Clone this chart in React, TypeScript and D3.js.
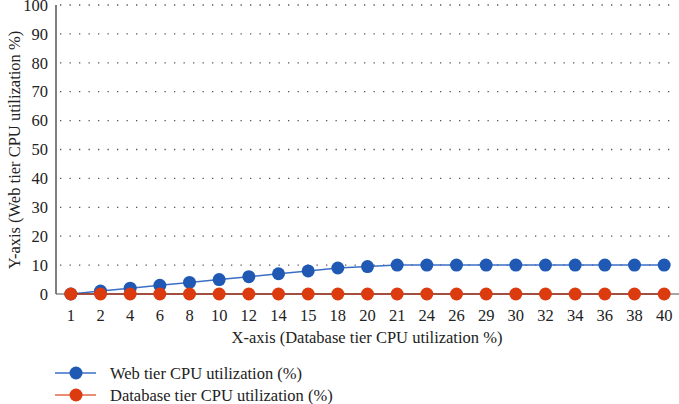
import React from "react";
import * as d3 from "d3";

const categories = ["1", "2", "4", "6", "8", "10", "12", "14", "15", "18", "20", "21", "24", "26", "29", "30", "32", "34", "36", "38", "40"];
const webTier = [0, 1, 2, 3, 4, 5, 6, 7, 8, 9, 9.5, 10, 10, 10, 10, 10, 10, 10, 10, 10, 10];
const dbTier = [0, 0, 0, 0, 0, 0, 0, 0, 0, 0, 0, 0, 0, 0, 0, 0, 0, 0, 0, 0, 0];
const yTicks = [0, 10, 20, 30, 40, 50, 60, 70, 80, 90, 100];
const seriesNames = ["Web tier CPU utilization (%)", "Database tier CPU utilization (%)"];

const W = 679, H = 404;
const left = 56, right = 679, top = 5, bottom = 294;
const font = "'Liberation Serif', 'Times New Roman', serif";
const fs = 16.5;

export default function App() {
  const x = d3.scalePoint<string>().domain(categories).range([left, right]).padding(0.5);
  const y = d3.scaleLinear().domain([0, 100]).range([bottom, top]);
  const line = d3.line<number>().x((_, i) => x(categories[i])!).y((d) => y(d));
  const series = [
    { name: seriesNames[0], values: webTier, line: "#3b6fc6", dot: "#1f59b4" },
    { name: seriesNames[1], values: dbTier, line: "#a1321c", dot: "#dc3a0f" },
  ];
  const legendLine = ["#3b6fc6", "#e0694a"];
  return (
    <svg width={W} height={H} style={{ position: "absolute", left: 0, top: 0 }} fontFamily={font}>
      <rect width={W} height={H} fill="#fff" />
      {yTicks.filter((t) => t > 0).map((t) => (
        <line key={t} x1={left + 4} x2={W - 2} y1={y(t)} y2={y(t)} stroke="#555" strokeWidth={1.3} strokeDasharray="1.3 8.2" />
      ))}
      {yTicks.map((t) => (
        <text key={t} x={left - 8} y={y(t)} dy="0.35em" textAnchor="end" fontSize={fs} fill="#222">{t}</text>
      ))}
      <line x1={left} x2={W} y1={bottom} y2={bottom} stroke="#888" strokeWidth={1.5} />
      <line x1={left} x2={left} y1={top} y2={bottom} stroke="#555" strokeWidth={1.5} />
      {categories.map((c) => (
        <text key={c} x={x(c)} y={315} dy="0.35em" textAnchor="middle" fontSize={fs} fill="#222">{c}</text>
      ))}
      <text x={367} y={337} dy="0.35em" textAnchor="middle" fontSize={fs} fill="#222">X-axis (Database tier CPU utilization %)</text>
      <text transform={`translate(14,150) rotate(-90)`} dy="0.35em" textAnchor="middle" fontSize={fs} fill="#222">Y-axis (Web tier CPU utilization %)</text>
      {series.map((s) => (
        <g key={s.name}>
          <path d={line(s.values)!} fill="none" stroke={s.line} strokeWidth={1.5} />
          {s.values.map((v, i) => (
            <circle key={i} cx={x(categories[i])} cy={y(v)} r={6.5} fill={s.dot} />
          ))}
        </g>
      ))}
      {series.map((s, i) => (
        <g key={s.name} transform={`translate(0,${373 + i * 22})`}>
          <line x1={55} x2={96} y1={0} y2={0} stroke={legendLine[i]} strokeWidth={1.5} />
          <circle cx={76} cy={0} r={6.5} fill={s.dot} />
          <text x={110} y={0} dy="0.35em" fontSize={fs} fill="#222">{s.name}</text>
        </g>
      ))}
    </svg>
  );
}
